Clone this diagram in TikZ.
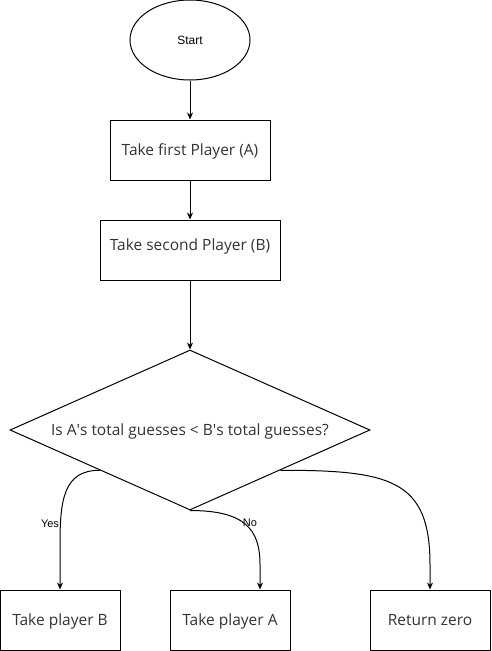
\documentclass[tikz,border=0pt]{standalone}
\usepackage{fontspec}
\setmainfont{Open Sans}
\newfontfamily\arialfont{Liberation Sans}
\usetikzlibrary{shapes.geometric,arrows.meta,calc}
\definecolor{txtgrey}{HTML}{333333}
\tikzset{
  every picture/.style={line width=1pt},
  boxnode/.style={draw=black, fill=white, rectangle, inner sep=0pt, text=txtgrey, font=\fontsize{15.5}{17}\selectfont, text height=11pt, text depth=0pt},
  lbl/.style={text=txtgrey, font=\fontsize{15.5}{17}\selectfont, inner sep=0pt, text height=11pt, text depth=0pt},
  small/.style={font=\arialfont\fontsize{11}{13}\selectfont, text=black, inner sep=0pt},
  arr/.style={draw=black, -{Stealth[length=7pt,width=6pt]}},
}
\begin{document}
\begin{tikzpicture}[x=1pt,y=-1pt]
\useasboundingbox (0,0) rectangle (491,651);
\node[draw, ellipse, minimum width=120pt, minimum height=80pt, inner sep=0pt, small, font=\arialfont\fontsize{12}{14}\selectfont] (start) at (190,40) {Start};
\node[boxnode, minimum width=160pt, minimum height=60pt] (p1) at (190,150) {Take first Player (A)};
\node[boxnode, minimum width=180pt, minimum height=60pt] (p2) at (190,250) {};
\node[lbl] (p2t) at ([yshift=5pt]p2.center) {Take second Player (B)};
\node[draw, diamond, minimum width=360pt, minimum height=160pt, inner sep=0pt, shape aspect=2.25, lbl] (dec) at (190,430) {Is A\textquotesingle s total guesses < B\textquotesingle s total guesses?};
\node[boxnode, minimum width=120pt, minimum height=60pt] (tb) at (60,620) {Take player B};
\node[boxnode, minimum width=120pt, minimum height=60pt] (ta) at (230,620) {Take player A};
\node[boxnode, minimum width=120pt, minimum height=60pt] (rz) at (430,620) {Return zero};
\coordinate (dl) at ($(dec.west)!0.5!(dec.south)$);
\coordinate (dr) at ($(dec.east)!0.5!(dec.south)$);
\draw[arr] (start.south) -- (p1.north);
\draw[arr] (p1.south) -- (p2.north);
\draw[arr] (p2.south) -- (dec.north);
\draw[arr] (dl) .. controls ($(dl)+(-36,0)$) and ($(tb.north)+(0,-90)$) .. ($(tb.north)+(0,-45)$) -- (tb.north);
\draw[arr] (dec.south) .. controls ($(dec.south)+(55,0)$) and ($(ta.north)+(30,-60)$) .. ($(ta.north)+(30,-25)$) -- ($(ta.north)+(30,0)$);
\draw[arr] (dr) .. controls ($(dr)+(110,0)$) and ($(rz.north)+(0,-110)$) .. ($(rz.north)+(0,-25)$) -- (rz.north);
\node[small] (yes) at (50,524) {Yes};
\node[small] (no) at (250,523) {No};
\end{tikzpicture}
\end{document}
